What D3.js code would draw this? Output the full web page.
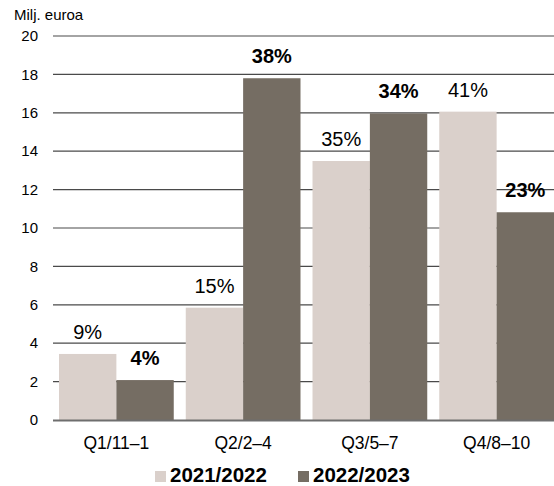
<!DOCTYPE html>
<html><head><meta charset="utf-8">
<script src="https://cdn.jsdelivr.net/npm/d3@7"></script>
<style>body{margin:0;background:#fff}svg{display:block}text{font-family:"Liberation Sans",Arial,sans-serif}</style>
</head><body><svg id="c" width="554" height="486"></svg>
<script>
const categories = ["Q1/11\u20131","Q2/2\u20134","Q3/5\u20137","Q4/8\u201310"];
const seriesNames = ["2021/2022","2022/2023"];
const values2122 = [3.44, 5.85, 13.49, 16.06];
const values2223 = [2.08, 17.8, 15.97, 10.82];
const labels2122 = ["9%","15%","35%","41%"];
const labels2223 = ["4%","38%","34%","23%"];
const yTicks = [0,2,4,6,8,10,12,14,16,18,20];
const colors = ["#dad0cb","#756d63"];

const svg = d3.select("#c");
const x0 = d3.scaleBand().domain(categories).range([53, 560]).paddingInner(12/126.7).paddingOuter(6/126.7);
const x1 = d3.scaleBand().domain(seriesNames).range([0, x0.bandwidth()]);
const y = d3.scaleLinear().domain([0,20]).range([420,36]);

// gridlines
svg.append("g").selectAll("line").data(yTicks.filter(d=>d>0)).join("line")
  .attr("x1",53).attr("x2",554).attr("y1",d=>y(d)).attr("y2",d=>y(d))
  .attr("stroke","#4a4a4a").attr("stroke-width",1.2);

// y tick labels
svg.append("g").selectAll("text").data(yTicks).join("text")
  .attr("x",38).attr("y",d=>y(d)).attr("dy","0.35em").attr("text-anchor","end")
  .attr("font-size",15).attr("fill","#000").text(d=>d);

svg.append("text").attr("x",14).attr("y",20).attr("font-size",15).text("Milj. euroa");

const series = [values2122, values2223];
const labels = [labels2122, labels2223];
series.forEach((vals, si) => {
  const g = svg.append("g");
  g.selectAll("rect").data(vals).join("rect")
    .attr("x",(d,i)=>x0(categories[i])+x1(seriesNames[si]))
    .attr("width",x1.bandwidth())
    .attr("y",d=>y(d)).attr("height",d=>y(0)-y(d))
    .attr("fill",colors[si]);
});
series.forEach((vals, si) => {
  svg.append("g").selectAll("text").data(vals).join("text")
    .attr("x",(d,i)=>x0(categories[i])+x1(seriesNames[si])+x1.bandwidth()/2)
    .attr("y",d=>y(d)-15)
    .attr("text-anchor","middle").attr("font-size",20)
    .attr("font-weight",si===1?"bold":"normal")
    .attr("fill","#000")
    .text((d,i)=>labels[si][i]);
});

// axis line
svg.append("line").attr("x1",53).attr("x2",554).attr("y1",420.5).attr("y2",420.5)
  .attr("stroke","#6e6e6e").attr("stroke-width",2);

// x labels
svg.append("g").selectAll("text").data(categories).join("text")
  .attr("x",d=>x0(d)+x0.bandwidth()/2).attr("y",449)
  .attr("text-anchor","middle").attr("font-size",17.5).text(d=>d);

// legend
const legX = [155, 298];
seriesNames.forEach((n,i)=>{
  svg.append("rect").attr("x",legX[i]).attr("y",471).attr("width",11).attr("height",11).attr("fill",colors[i]);
  svg.append("text").attr("x",legX[i]+15).attr("y",482).attr("font-size",20.5).attr("font-weight","bold").text(n);
});
</script></body></html>
